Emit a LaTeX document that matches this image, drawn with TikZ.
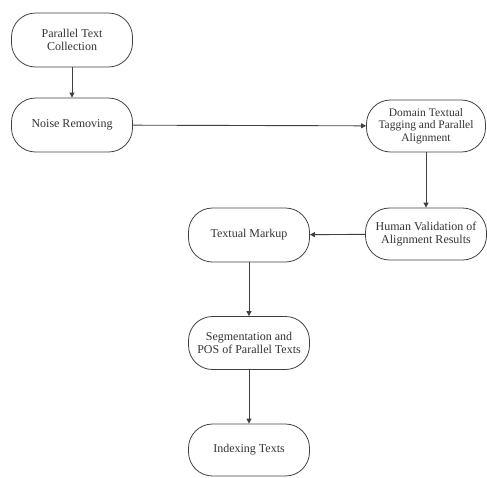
\documentclass[tikz,border=0pt]{standalone}
\usepackage{fontspec}
\setmainfont{Liberation Serif}
\usetikzlibrary{arrows.meta}
\begin{document}
\begin{tikzpicture}[x=1pt,y=-1pt,
  proc/.style={draw=black!75, line width=0.8pt, rounded corners=24pt, minimum width=121pt, minimum height=54pt, align=center, font=\fontsize{12}{13.5}\selectfont, text=black!80, inner sep=1pt},
  flow/.style={draw=black!75, line width=0.9pt, -{Triangle[length=5pt,width=5pt]}}]
\useasboundingbox (0,0) rectangle (487,477);
\node[proc] (a) at (72,40) {Parallel Text\\Collection};
\node[proc] (b) at (72,125) {Noise Removing};
\node[proc, minimum width=119pt, minimum height=52pt, font=\fontsize{11.5}{12.5}\selectfont] (c) at (426,126) {Domain Textual\\Tagging and Parallel\\Alignment};
\node[proc, minimum width=121pt, minimum height=52pt] (d) at (426,234) {Human Validation of\\Alignment Results};
\node[proc] (e) at (249,235) {Textual Markup};
\node[proc, minimum height=53pt] (f) at (249,343) {Segmentation and\\POS of Parallel Texts};
\node[proc, minimum height=52pt] (g) at (249,450) {Indexing Texts};
\draw[flow] (a) -- (b);
\draw[flow] (b) -- (c);
\draw[flow] (c) -- (d);
\draw[flow] (d) -- (e);
\draw[flow] (e) -- (f);
\draw[flow] (f) -- (g);
\end{tikzpicture}
\end{document}
